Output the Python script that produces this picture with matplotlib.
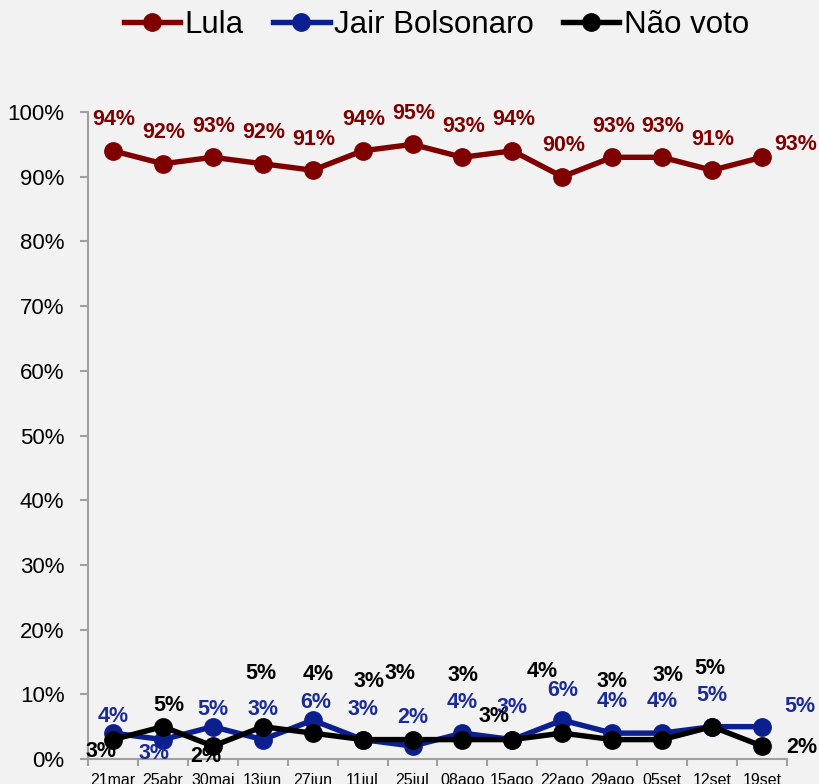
import matplotlib
matplotlib.use("Agg")
import matplotlib.pyplot as plt
from matplotlib import font_manager
from matplotlib.ticker import FixedLocator, PercentFormatter

# --- data -----------------------------------------------------------------
dates = ["21mar", "25abr", "30mai", "13jun", "27jun", "11jul", "25jul",
         "08ago", "15ago", "22ago", "29ago", "05set", "12set", "19set"]
lula = [94, 92, 93, 92, 91, 94, 95, 93, 94, 90, 93, 93, 91, 93]
bolsonaro = [4, 3, 5, 3, 6, 3, 2, 4, 3, 6, 4, 4, 5, 5]
nao_voto = [3, 5, 2, 5, 4, 3, 3, 3, 3, 4, 3, 3, 5, 2]
y_ticks = [0, 10, 20, 30, 40, 50, 60, 70, 80, 90, 100]

# --- label placement (pixel offsets from each marker, x right / y up) ------
lula_off = [(1, 31)] * 13 + [(34, 13)]
bolso_off = [(0, 17), (-9, -14), (0, 17), (0, 30), (3, 18), (0, 30), (0, 29),
             (0, 31), (0, 32), (0, 30), (0, 32), (0, 32), (0, 31), (38, 20)]
nao_off = [(-12, -12), (6, 21), (-7, -10), (-2, 53), (6, 59), (6, 58),
           (-12, 66), (1, 64), (-18, 23), (-20, 62), (0, 58), (6, 64),
           (-2, 58), (40, -1)]

RED = "#7f0000"
BLUE = "#0c1f8e"
BLUE_TXT = "#1a2b97"
BLACK = "#000000"
BG = "#f2f2f2"

names = {f.name for f in font_manager.fontManager.ttflist}
if "Liberation Sans Narrow" in names:
    tick_font, tick_size = "Liberation Sans Narrow", 19
else:
    tick_font, tick_size = "Liberation Sans", 16

plt.rcParams["font.family"] = ["Liberation Sans", "DejaVu Sans"]

W, H = 820, 784
fig = plt.figure(figsize=(W / 100, H / 100), dpi=100, facecolor=BG)
ax = fig.add_axes([88 / W, 1 - 759 / H, (787 - 88) / W, (759 - 112) / H])
ax.set_facecolor(BG)

x = list(range(len(dates)))
series = [
    ("Lula", lula, RED, RED, lula_off),
    ("Jair Bolsonaro", bolsonaro, BLUE, BLUE_TXT, bolso_off),
    ("Não voto", nao_voto, BLACK, BLACK, nao_off),
]
for name, vals, col, tcol, offs in series:
    ax.plot(x, vals, color=col, lw=3.9, marker="o", ms=12.5, label=name,
            clip_on=False, zorder=3, solid_joinstyle="round")
    for xi, v, (dx, dy) in zip(x, vals, offs):
        ax.annotate(f"{v}%", (xi, v), xytext=(dx, dy),
                    textcoords="offset pixels", ha="center", va="center",
                    fontsize=15.5, fontweight="bold", color=tcol,
                    annotation_clip=False, zorder=4)

ax.set_xlim(-0.5, len(dates) - 0.5)
ax.set_ylim(0, 100)

ax.set_xticks(x)
ax.set_xticklabels(dates, fontsize=11.5)
ax.xaxis.set_minor_locator(FixedLocator([i - 0.5 for i in range(len(dates) + 1)]))
ax.tick_params(axis="x", which="major", length=0, pad=10)
ax.tick_params(axis="x", which="minor", length=5, width=1.5, color="#a0a0a0",
               direction="out")

ax.set_yticks(y_ticks)
ax.yaxis.set_major_formatter(PercentFormatter(decimals=0))
ax.tick_params(axis="y", length=6, width=1.5, color="#a0a0a0", pad=11)
for lab in ax.get_yticklabels():
    lab.set_fontfamily(tick_font)
    lab.set_fontsize(tick_size)

for s in ("top", "right"):
    ax.spines[s].set_visible(False)
for s in ("left", "bottom"):
    ax.spines[s].set_color("#a0a0a0")
    ax.spines[s].set_linewidth(1.5)

fig.legend(loc="center", bbox_to_anchor=(436.5 / W, 1 - 25 / H), ncol=3,
           frameon=False, fontsize=22.5, handlelength=1.8, handletextpad=0.13,
           columnspacing=0.95, borderpad=0, markerscale=1.0)

fig.savefig("out.png", dpi=100, facecolor=BG)
